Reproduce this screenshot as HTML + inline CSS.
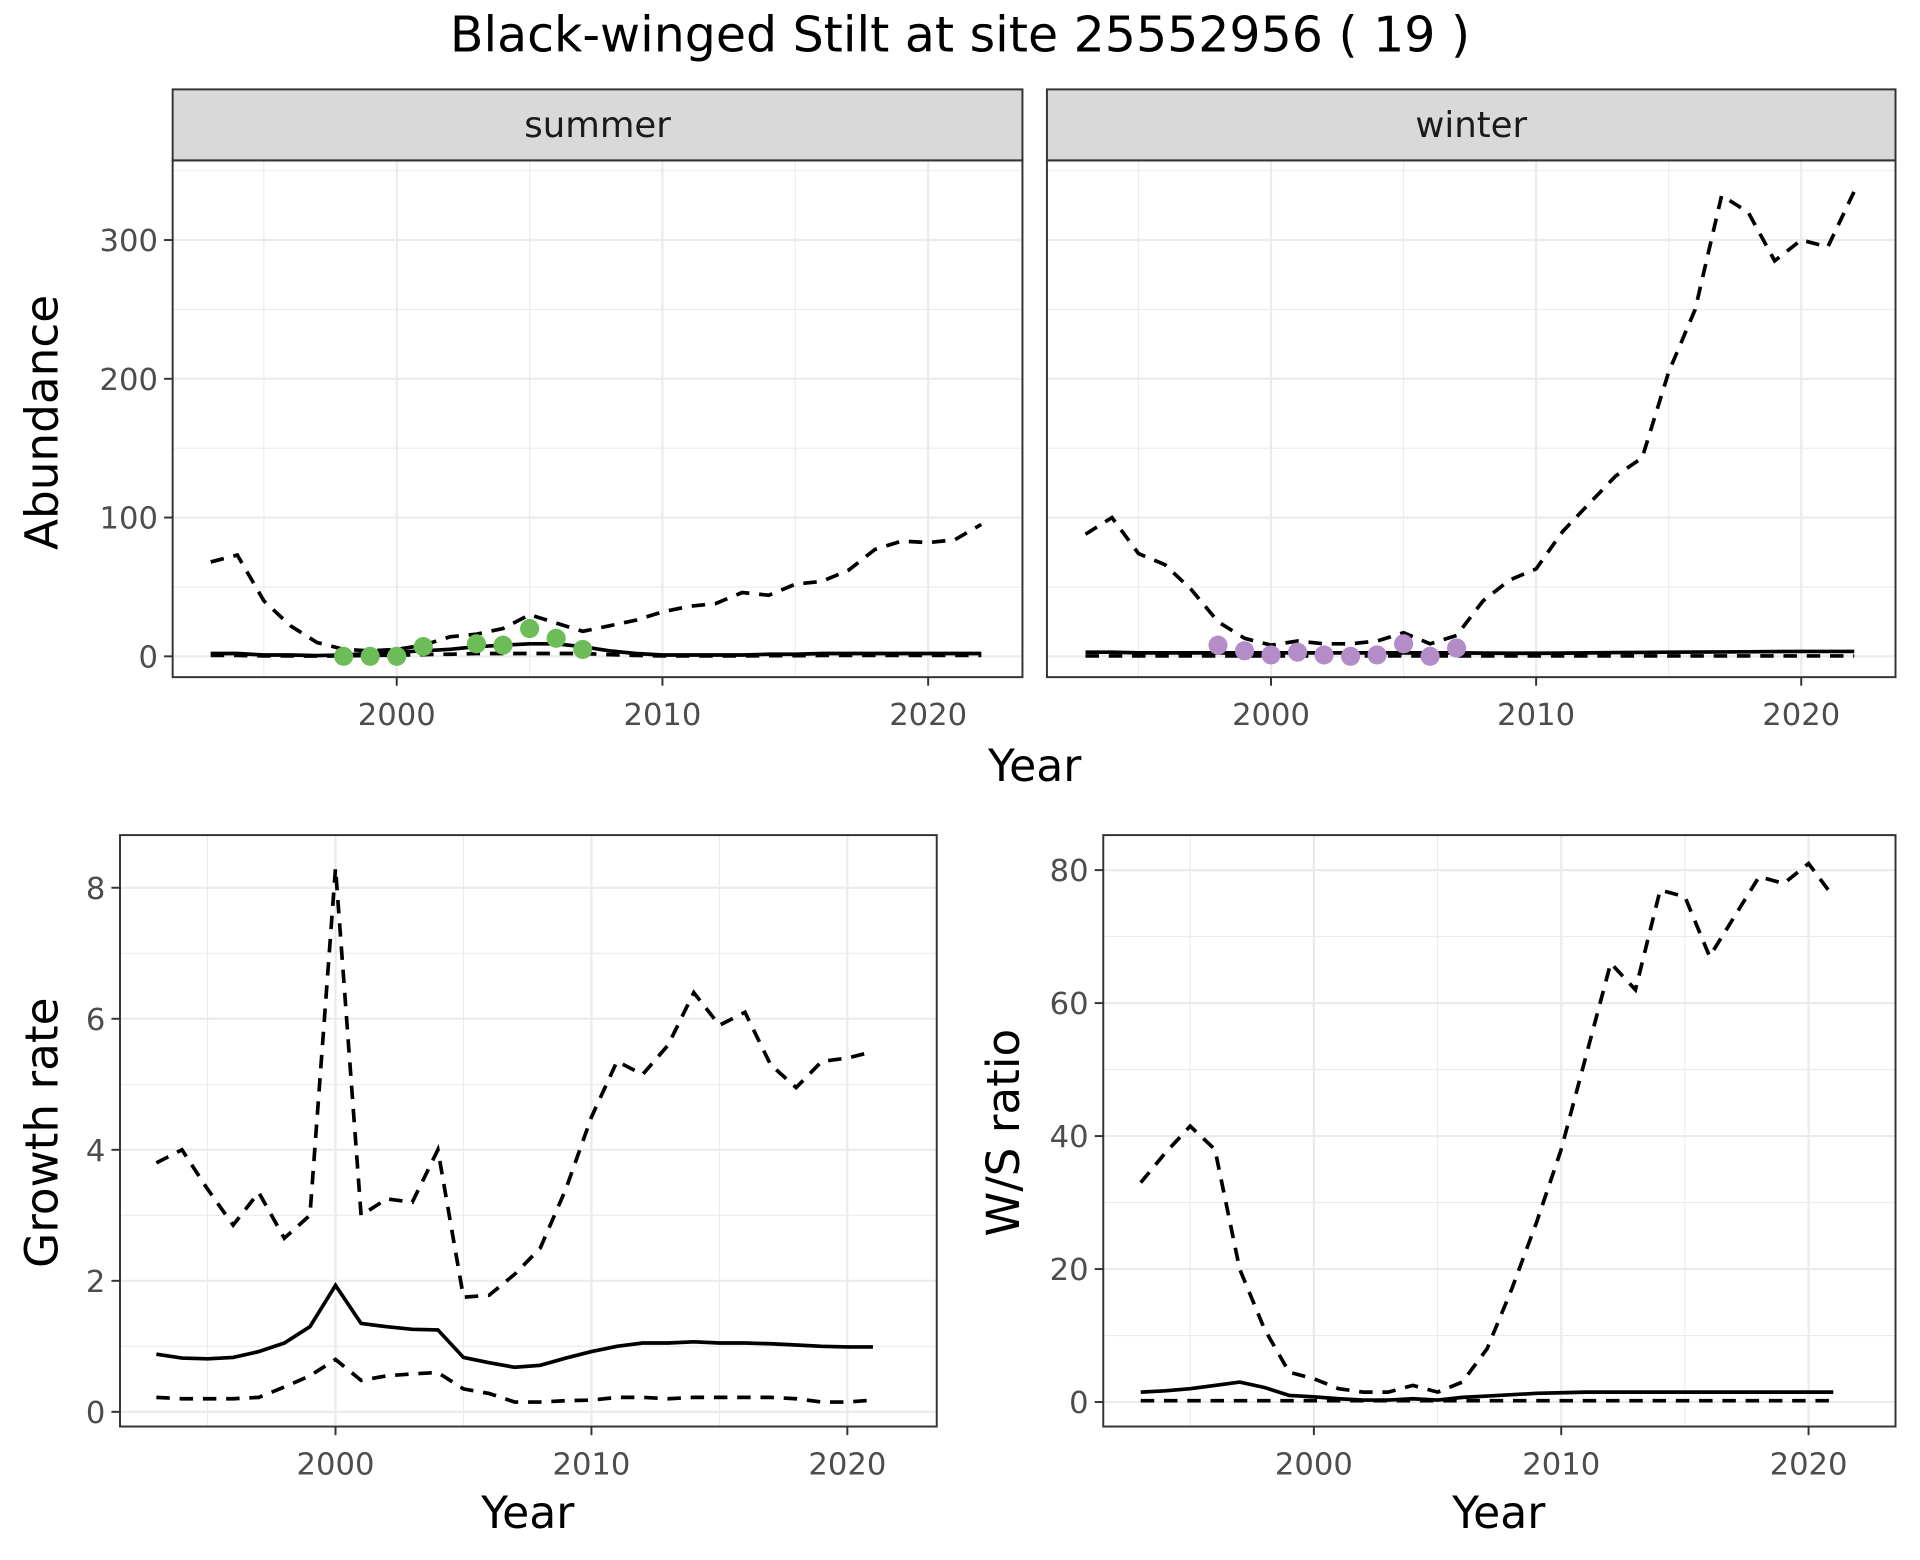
<!DOCTYPE html>
<html><head><meta charset="utf-8"><style>html,body{margin:0;padding:0;background:#fff}svg{display:block}text{font-family:"DejaVu Sans","Liberation Sans",sans-serif}</style></head>
<body>
<svg id="s" xmlns="http://www.w3.org/2000/svg" width="1920" height="1560" viewBox="0 0 1568 1274"></svg>
<script>
const S=document.getElementById('s');let h='';
h+='<rect width="1568" height="1274" fill="#fff"/>';
h+='<text x="784" y="42" font-size="40" text-anchor="middle" fill="#000">Black-winged Stilt at site 25552956 ( 19 )</text>';
function T(x,y,s,txt,anchor,fill){return `<text x="${x}" y="${y}" font-size="${s}" fill="${fill}" text-anchor="${anchor}">${txt}</text>`;}
function panel(o){
 const {x0,x1,y0,y1,X,Y,xt,yt,showY}=o;
 h+=`<rect x="${x0}" y="${y0}" width="${x1-x0}" height="${y1-y0}" fill="#fff"/>`;
 for(let i=0;i<xt.length+1;i++){const v=xt[0]-5+i*10;const px=X(v);if(px>x0&&px<x1)h+=`<line x1="${px}" x2="${px}" y1="${y0}" y2="${y1}" stroke="#ebebeb" stroke-width="0.9"/>`;}
 const d=yt[1]-yt[0];
 for(let i=0;i<yt.length+1;i++){const v=yt[0]+d/2+i*d;const py=Y(v);if(py>y0&&py<y1)h+=`<line x1="${x0}" x2="${x1}" y1="${py}" y2="${py}" stroke="#ebebeb" stroke-width="0.9"/>`;}
 xt.forEach(v=>{h+=`<line x1="${X(v)}" x2="${X(v)}" y1="${y0}" y2="${y1}" stroke="#ebebeb" stroke-width="1.8"/>`;
  h+=`<line x1="${X(v)}" x2="${X(v)}" y1="${y1}" y2="${y1+7}" stroke="#333" stroke-width="1.6"/>`;
  h+=T(X(v),y1+39,25,v,'middle','#4d4d4d');});
 yt.forEach(v=>{h+=`<line x1="${x0}" x2="${x1}" y1="${Y(v)}" y2="${Y(v)}" stroke="#ebebeb" stroke-width="1.8"/>`;
  if(showY){h+=`<line x1="${x0-7}" x2="${x0}" y1="${Y(v)}" y2="${Y(v)}" stroke="#333" stroke-width="1.6"/>`;
  h+=T(x0-12,Y(v)+9,25,v,'end','#4d4d4d');}});
}
function line(X,Y,d,dash){let p=d.map((v,i)=>`${X(1993+i).toFixed(1)},${Y(v).toFixed(1)}`).join(' ');
 h+=`<polyline points="${p}" fill="none" stroke="#000" stroke-width="3" ${dash?'stroke-dasharray="11,8"':''}/>`;}
function border(x0,x1,y0,y1){h+=`<rect x="${x0}" y="${y0}" width="${x1-x0}" height="${y1-y0}" fill="none" stroke="#333" stroke-width="1.6"/>`;}
const Yt=v=>536-v*1.1333;
const Xl=v=>324+(v-2000)*21.7, Xr=v=>1038+(v-2000)*21.65;
const sumU=[68,73,40,22,10,5,4,5,8,14,16,20,30,24,18,22,26,32,36,38,46,44,52,54,62,77,83,82,84,95];
const sumS=[2,2,1,1,0.5,1,2,3,4,5,7,8,9,9,7,4,2,1,1,1,1,1.5,1.5,2,2,2,2,2,2,2];
const sumL=sumS.map(v=>Math.min(v*0.3,2));
const winU=[88,100,74,66,48,25,13,8,11,9,9,11,17,9,15,40,55,63,90,110,130,143,205,250,332,320,285,300,295,335];
const winS=[3,3,2.5,2.5,2.5,2.5,2.5,2.5,2.5,2.5,2.5,2.5,2.5,2.5,2.5,2.3,2.2,2.2,2.3,2.5,2.7,2.8,3,3.1,3.2,3.3,3.4,3.5,3.5,3.5];
const winL=winS.map(()=>0.3);
[[141,835,Xl,sumU,sumS,sumL,true,'summer'],[855,1548,Xr,winU,winS,winL,false,'winter']].forEach(([x0,x1,X,U,Sd,L,sy,lab])=>{
 panel({x0,x1,y0:131,y1:553,X,Y:Yt,xt:[2000,2010,2020],yt:[0,100,200,300],showY:sy});
 line(X,Yt,U,true);line(X,Yt,L,true);line(X,Yt,Sd,false);
 h+=`<rect x="${x0}" y="73" width="${x1-x0}" height="58" fill="#d9d9d9" stroke="#333" stroke-width="1.6"/>`;
 h+=`<text x="${(x0+x1)/2}" y="112" font-size="29" fill="#1a1a1a" text-anchor="middle">${lab}</text>`;
});
[[1998,0],[1999,0],[2000,0],[2001,7],[2003,9],[2004,8],[2005,20],[2006,13],[2007,5]].forEach(([y,v])=>h+=`<circle cx="${Xl(y)}" cy="${Yt(v)}" r="7.8" fill="#6cbd58"/>`);
[[1998,8],[1999,4],[2000,1],[2001,3],[2002,1],[2003,0],[2004,1],[2005,9],[2006,0],[2007,6]].forEach(([y,v])=>h+=`<circle cx="${Xr(y)}" cy="${Yt(v)}" r="7.8" fill="#b48cc8"/>`);
border(141,835,131,553);border(855,1548,131,553);
h+='<text x="845" y="638" font-size="36" text-anchor="middle">Year</text>';
h+='<text transform="translate(47,345) rotate(-90)" font-size="37" text-anchor="middle">Abundance</text>';
const Xg=v=>274+(v-2000)*20.9, Yg=v=>1153-v*53.5;
panel({x0:98,x1:765,y0:682,y1:1165,X:Xg,Y:Yg,xt:[2000,2010,2020],yt:[0,2,4,6,8],showY:true});
line(Xg,Yg,[3.8,4.0,3.4,2.85,3.35,2.65,3.0,8.3,3.0,3.25,3.2,4.0,1.75,1.78,2.1,2.5,3.4,4.5,5.35,5.15,5.6,6.4,5.9,6.1,5.3,4.95,5.35,5.4,5.5],true);
line(Xg,Yg,[.22,.2,.2,.2,.22,.38,.55,.8,.48,.55,.58,.6,.35,.28,.15,.15,.17,.18,.22,.22,.2,.22,.22,.22,.22,.2,.15,.15,.18],true);
line(Xg,Yg,[.88,.82,.81,.83,.92,1.05,1.3,1.93,1.35,1.3,1.26,1.25,.83,.75,.68,.71,.82,.92,1.0,1.05,1.05,1.07,1.05,1.05,1.04,1.02,1.0,.99,.99],false);
border(98,765,682,1165);
h+='<text x="431" y="1248" font-size="36" text-anchor="middle">Year</text>';
h+='<text transform="translate(47,925) rotate(-90)" font-size="37" text-anchor="middle">Growth rate</text>';
const Xw=v=>1073+(v-2000)*20.2, Yw=v=>1145-v*5.43;
panel({x0:901,x1:1548,y0:682,y1:1165,X:Xw,Y:Yw,xt:[2000,2010,2020],yt:[0,20,40,60,80],showY:true});
line(Xw,Yw,[33,37.5,41.5,38,20,11,4.5,3.5,2,1.5,1.5,2.5,1.5,3,8,17,27,38,52,66,62,77,76,67,73,79,78,81,76],true);
line(Xw,Yw,Array(29).fill(0.2),true);
line(Xw,Yw,[1.5,1.7,2,2.5,3,2.2,1,.8,.5,.3,.3,.5,.3,.7,.9,1.1,1.3,1.4,1.5,1.5,1.5,1.5,1.5,1.5,1.5,1.5,1.5,1.5,1.5],false);
border(901,1548,682,1165);
h+='<text x="1224" y="1248" font-size="36" text-anchor="middle">Year</text>';
h+='<text transform="translate(832,925) rotate(-90)" font-size="37" text-anchor="middle">W/S ratio</text>';
S.innerHTML=h;
</script>
</body></html>
